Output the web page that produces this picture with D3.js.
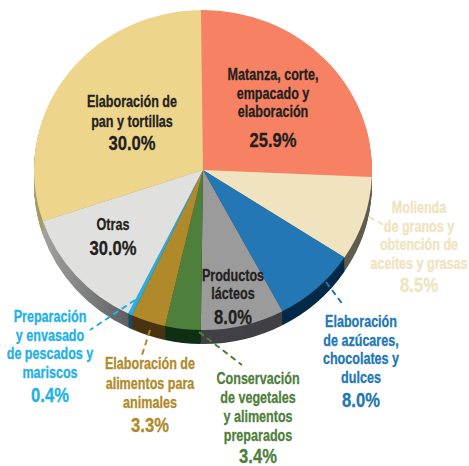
<!DOCTYPE html>
<html>
<head>
<meta charset="utf-8">
<script src="https://cdn.jsdelivr.net/npm/d3@7/dist/d3.min.js"></script>
<style>
html, body { margin: 0; padding: 0; background: #fff; }
text { font-family: "Liberation Sans", sans-serif; font-weight: bold; text-anchor: middle; }
</style>
</head>
<body>
<div id="vis"></div>
<script>
var categories = [
    ['Matanza, corte,', 'empacado y', 'elaboración'],
    ['Molienda', 'de granos y', 'obtención de', 'aceites y grasas'],
    ['Elaboración', 'de azúcares,', 'chocolates y', 'dulces'],
    ['Productos', 'lácteos'],
    ['Conservación', 'de vegetales', 'y alimentos', 'preparados'],
    ['Elaboración de', 'alimentos para', 'animales'],
    ['Preparación', 'y envasado', 'de pescados y', 'mariscos'],
    ['Otras'],
    ['Elaboración de', 'pan y tortillas']
];
// printed percentages (the source prints 30.0% for Otras too)
var printedLabels = ['25.9%', '8.5%', '8.0%', '8.0%', '3.4%', '3.3%', '0.4%', '30.0%', '30.0%'];
// share of the circle each slice really takes
var sliceValues = [25.9, 8.5, 8.0, 8.0, 3.4, 3.3, 0.4, 12.5, 30.0];

var faceColors = ['#f68263', '#efe4bf', '#2277b4', '#9b9b9b', '#4f7f3d', '#b08a2a', '#22b1e6', '#e0e1df', '#edd58c'];
var wallColors = ['#f68263', '#5f5d4d', '#042a48', '#414146', '#0f3014', '#4a3510', '#1a4a66', 'url(#otrasWall)', '#a89a6a'];
var textColors = ['#231f20', '#efe4bf', '#2277b4', '#231f20', '#4f7f3d', '#b08a2a', '#22b1e6', '#231f20', '#231f20'];

// label layout: centre x, first baseline, line step, baseline of the percentage
var labelX = [273, 419, 361, 233, 258, 150, 50, 113, 132];
var labelY = [80, 213, 327, 281, 384, 369, 322, 230, 107];
var labelStep = [18.5, 18.7, 18.7, 18, 19, 19.5, 18.5, 0, 20];
var percentY = [147, 292, 407, 324, 463, 432, 402, 255, 150];

var leaders = [
    { slice: 1, x1: 369, y1: 217, x2: 384, y2: 225 },
    { slice: 2, x1: 326, y1: 282, x2: 344, y2: 306 },
    { slice: 4, x1: 199, y1: 332, x2: 242, y2: 365 },
    { slice: 5, x1: 150, y1: 330, x2: 142, y2: 355 },
    { slice: 6, x1: 135, y1: 300, x2: 90, y2: 330 }
];

var width = 469;
var height = 466;
var cx = 203;
var cy = 170;
var rx = 169;
var ry = 160;
var depth = 14;
var tilt = -0.7 * Math.PI / 180;

var svg = d3.select('#vis')
    .append('svg')
    .attr('width', width)
    .attr('height', height)
    .style('display', 'block');

var grad = svg.append('defs').append('linearGradient')
    .attr('id', 'otrasWall')
    .attr('gradientUnits', 'userSpaceOnUse')
    .attr('x1', -rx).attr('x2', -rx * 0.35)
    .attr('y1', 0).attr('y2', 0);
grad.append('stop').attr('offset', 0).attr('stop-color', '#a9a9a5');
grad.append('stop').attr('offset', 1).attr('stop-color', '#505357');

var pie = d3.pie()
    .sort(null)
    .startAngle(tilt)
    .endAngle(2 * Math.PI + tilt)
    .value(function(d) { return d; });
var arcs = pie(sliceValues);
var arc = d3.arc().innerRadius(0).outerRadius(rx);

// the side wall is the same pie stacked downward in darker colours
d3.range(depth, 0, -1).forEach(function(offset) {
    svg.append('g')
        .attr('transform', 'translate(' + cx + ',' + (cy + offset) + ') scale(1,' + (ry / rx) + ')')
        .selectAll('path')
        .data(arcs)
        .enter()
        .append('path')
        .attr('d', arc)
        .attr('fill', function(d, i) { return wallColors[i]; });
});

svg.append('g')
    .attr('transform', 'translate(' + cx + ',' + cy + ') scale(1,' + (ry / rx) + ')')
    .selectAll('path')
    .data(arcs)
    .enter()
    .append('path')
    .attr('d', arc)
    .attr('fill', function(d, i) { return faceColors[i]; });

svg.selectAll('.leader')
    .data(leaders)
    .enter()
    .append('line')
    .attr('class', 'leader')
    .attr('x1', function(d) { return d.x1; })
    .attr('y1', function(d) { return d.y1; })
    .attr('x2', function(d) { return d.x2; })
    .attr('y2', function(d) { return d.y2; })
    .attr('stroke', function(d) { return textColors[d.slice]; })
    .attr('stroke-width', 2)
    .attr('stroke-dasharray', '6,4');

// no condensed face is installed, so the text is squeezed horizontally
function squeezed(x, y, squeeze, size, color, str) {
    svg.append('text')
        .attr('transform', 'translate(' + x + ',' + y + ') scale(' + squeeze + ',1)')
        .attr('font-size', size)
        .attr('fill', color)
        .attr('stroke', color)
        .attr('stroke-width', 0.3)
        .text(str);
}

categories.forEach(function(lines, i) {
    lines.forEach(function(line, j) {
        squeezed(labelX[i], labelY[i] + j * labelStep[i], 0.74, 17, textColors[i], line);
    });
    squeezed(labelX[i], percentY[i], 0.79, 21, textColors[i], printedLabels[i]);
});
</script>
</body>
</html>
